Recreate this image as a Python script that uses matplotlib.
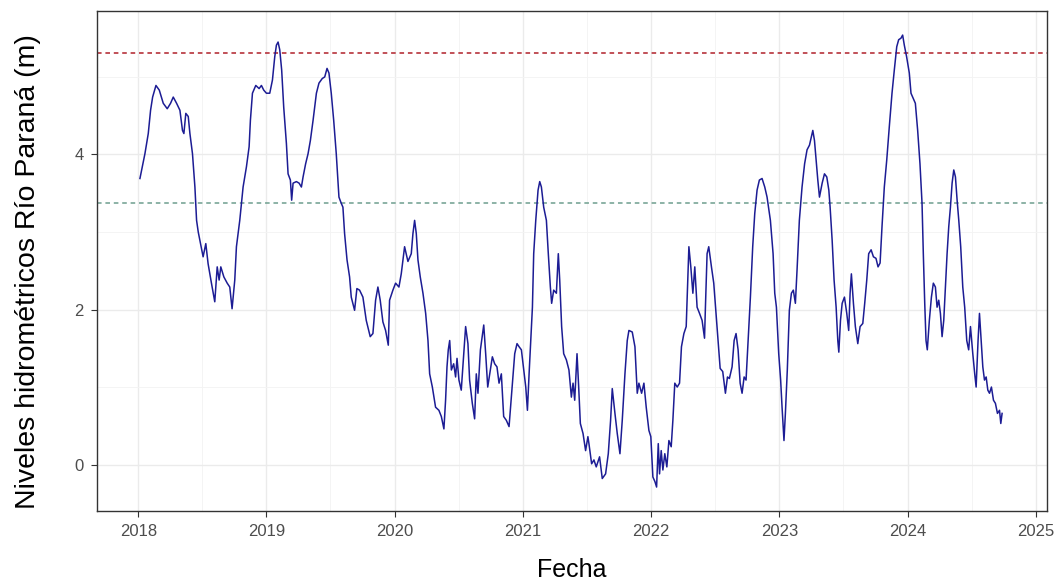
import matplotlib
matplotlib.use("Agg")
import matplotlib.pyplot as plt
import matplotlib.dates as mdates
import numpy as np
import pandas as pd

# ---- data (decimal year, level in m) ----
years_2018_19 = [2018.013, 2018.052, 2018.078, 2018.096, 2018.112, 2018.138, 2018.164, 2018.195, 2018.226, 2018.252,
                 2018.273, 2018.299, 2018.325, 2018.345, 2018.356, 2018.371, 2018.390, 2018.403, 2018.423, 2018.442,
                 2018.455, 2018.468, 2018.486, 2018.506, 2018.527, 2018.545, 2018.571, 2018.597, 2018.616, 2018.631,
                 2018.644, 2018.668, 2018.694, 2018.714, 2018.732, 2018.753, 2018.766, 2018.792, 2018.818, 2018.844,
                 2018.865, 2018.875, 2018.891, 2018.917, 2018.943, 2018.961, 2018.979, 2019.000, 2019.026, 2019.047,
                 2019.065, 2019.078, 2019.091, 2019.104, 2019.119, 2019.135, 2019.156, 2019.169, 2019.187, 2019.197,
                 2019.208, 2019.234, 2019.255, 2019.273, 2019.286, 2019.306, 2019.325, 2019.343, 2019.364, 2019.390,
                 2019.410, 2019.436, 2019.455, 2019.473, 2019.488, 2019.506, 2019.525, 2019.545, 2019.566, 2019.584,
                 2019.597, 2019.610, 2019.629, 2019.649, 2019.662, 2019.688, 2019.706]
levels_2018_19 = [3.69, 4.01, 4.27, 4.57, 4.74, 4.89, 4.83, 4.66, 4.59, 4.66,
                  4.74, 4.66, 4.57, 4.31, 4.27, 4.53, 4.49, 4.27, 4.01, 3.58,
                  3.15, 3.00, 2.85, 2.68, 2.85, 2.59, 2.34, 2.10, 2.55, 2.38,
                  2.55, 2.42, 2.34, 2.29, 2.01, 2.38, 2.81, 3.15, 3.58, 3.84,
                  4.10, 4.44, 4.79, 4.89, 4.85, 4.89, 4.83, 4.79, 4.79, 4.96,
                  5.26, 5.41, 5.45, 5.35, 5.09, 4.61, 4.14, 3.75, 3.67, 3.41,
                  3.63, 3.65, 3.63, 3.58, 3.71, 3.88, 4.01, 4.18, 4.44, 4.79,
                  4.92, 4.98, 5.00, 5.11, 5.05, 4.79, 4.44, 4.01, 3.45, 3.37,
                  3.32, 2.98, 2.64, 2.42, 2.16, 1.99, 2.27]

years_2019_21 = [2019.727, 2019.753, 2019.779, 2019.810, 2019.831, 2019.852, 2019.870, 2019.888, 2019.909, 2019.930,
                 2019.951, 2019.961, 2019.987, 2020.008, 2020.034, 2020.052, 2020.078, 2020.104, 2020.130, 2020.143,
                 2020.156, 2020.169, 2020.182, 2020.200, 2020.221, 2020.242, 2020.260, 2020.273, 2020.294, 2020.319,
                 2020.345, 2020.364, 2020.384, 2020.397, 2020.408, 2020.418, 2020.429, 2020.442, 2020.460, 2020.475,
                 2020.486, 2020.501, 2020.519, 2020.538, 2020.553, 2020.571, 2020.584, 2020.605, 2020.623, 2020.636,
                 2020.649, 2020.668, 2020.694, 2020.709, 2020.725, 2020.745, 2020.761, 2020.779, 2020.797, 2020.813,
                 2020.831, 2020.849, 2020.870, 2020.891, 2020.909, 2020.935, 2020.953, 2020.969, 2020.987, 2021.005,
                 2021.021, 2021.034, 2021.047, 2021.060, 2021.073, 2021.083, 2021.099, 2021.117, 2021.130, 2021.143,
                 2021.161, 2021.182, 2021.197, 2021.213, 2021.223, 2021.239, 2021.260, 2021.275, 2021.286, 2021.301,
                 2021.317, 2021.338, 2021.358, 2021.377, 2021.390, 2021.403, 2021.421, 2021.434, 2021.447, 2021.468,
                 2021.488, 2021.506]
levels_2019_21 = [2.25, 2.16, 1.86, 1.65, 1.69, 2.12, 2.29, 2.12, 1.84, 1.73,
                  1.54, 2.12, 2.25, 2.34, 2.29, 2.46, 2.81, 2.62, 2.72, 2.98,
                  3.15, 2.98, 2.64, 2.42, 2.21, 1.95, 1.60, 1.17, 1.00, 0.74,
                  0.70, 0.62, 0.46, 0.83, 1.26, 1.48, 1.60, 1.22, 1.30, 1.13,
                  1.37, 1.09, 0.96, 1.43, 1.78, 1.56, 1.09, 0.79, 0.59, 1.17,
                  0.92, 1.48, 1.80, 1.43, 1.00, 1.22, 1.39, 1.30, 1.26, 1.05,
                  1.17, 0.62, 0.57, 0.49, 0.87, 1.43, 1.56, 1.52, 1.48, 1.22,
                  1.00, 0.70, 1.17, 1.60, 2.03, 2.72, 3.15, 3.54, 3.65, 3.58,
                  3.32, 3.15, 2.72, 2.29, 2.08, 2.25, 2.21, 2.72, 2.38, 1.78,
                  1.43, 1.35, 1.22, 0.87, 1.05, 0.83, 1.43, 1.00, 0.53, 0.40,
                  0.18, 0.36]

years_2021_23 = [2021.514, 2021.535, 2021.553, 2021.571, 2021.597, 2021.618, 2021.644, 2021.665, 2021.683, 2021.696,
                 2021.717, 2021.735, 2021.756, 2021.774, 2021.795, 2021.813, 2021.826, 2021.852, 2021.873, 2021.891,
                 2021.904, 2021.925, 2021.943, 2021.961, 2021.982, 2021.997, 2022.013, 2022.029, 2022.042, 2022.055,
                 2022.065, 2022.078, 2022.091, 2022.106, 2022.122, 2022.138, 2022.156, 2022.169, 2022.184, 2022.203,
                 2022.221, 2022.236, 2022.255, 2022.273, 2022.283, 2022.294, 2022.309, 2022.325, 2022.340, 2022.358,
                 2022.377, 2022.397, 2022.416, 2022.423, 2022.436, 2022.449, 2022.470, 2022.488, 2022.506, 2022.522,
                 2022.538, 2022.558, 2022.579, 2022.595, 2022.610, 2022.631, 2022.647, 2022.662, 2022.678, 2022.694,
                 2022.709, 2022.725, 2022.740, 2022.756, 2022.774, 2022.792, 2022.808, 2022.826, 2022.844, 2022.865,
                 2022.886, 2022.904, 2022.930, 2022.951, 2022.964, 2022.977, 2022.995, 2023.010, 2023.021, 2023.036,
                 2023.047, 2023.062, 2023.078, 2023.094, 2023.109, 2023.125, 2023.138, 2023.156, 2023.177, 2023.197,
                 2023.216]
levels_2021_23 = [0.27, 0.01, 0.06, -0.03, 0.10, -0.18, -0.12, 0.14, 0.57, 0.98,
                  0.66, 0.40, 0.14, 0.57, 1.17, 1.60, 1.73, 1.71, 1.52, 0.92,
                  1.05, 0.92, 1.05, 0.74, 0.44, 0.36, -0.16, -0.22, -0.29, 0.27,
                  -0.12, 0.18, -0.07, 0.14, -0.03, 0.31, 0.23, 0.57, 1.05, 1.00,
                  1.05, 1.52, 1.69, 1.78, 2.29, 2.81, 2.55, 2.21, 2.55, 2.03,
                  1.95, 1.86, 1.63, 2.03, 2.72, 2.81, 2.55, 2.34, 1.95, 1.60,
                  1.24, 1.20, 0.92, 1.13, 1.11, 1.26, 1.60, 1.69, 1.48, 1.05,
                  0.92, 1.13, 1.09, 1.60, 2.16, 2.81, 3.24, 3.54, 3.67, 3.69,
                  3.58, 3.45, 3.15, 2.72, 2.21, 2.03, 1.43, 1.09, 0.74, 0.31,
                  0.66, 1.22, 1.99, 2.21, 2.25, 2.08, 2.51, 3.15, 3.58, 3.88,
                  4.06]

years_2023_24 = [2023.235, 2023.261, 2023.274, 2023.287, 2023.300, 2023.313, 2023.334, 2023.352, 2023.370, 2023.386,
                 2023.396, 2023.412, 2023.427, 2023.443, 2023.456, 2023.464, 2023.477, 2023.490, 2023.508, 2023.526,
                 2023.541, 2023.552, 2023.562, 2023.578, 2023.593, 2023.612, 2023.630, 2023.651, 2023.666, 2023.682,
                 2023.697, 2023.716, 2023.734, 2023.754, 2023.770, 2023.786, 2023.801, 2023.819, 2023.838, 2023.858,
                 2023.879, 2023.897, 2023.916, 2023.931, 2023.949, 2023.962, 2023.975, 2023.993, 2024.014, 2024.027,
                 2024.045, 2024.061, 2024.079, 2024.097, 2024.113, 2024.123, 2024.134, 2024.144, 2024.154, 2024.170,
                 2024.186, 2024.201, 2024.217, 2024.230, 2024.243, 2024.256, 2024.269, 2024.282, 2024.295, 2024.308,
                 2024.321, 2024.334, 2024.347, 2024.360, 2024.373, 2024.386, 2024.399, 2024.414, 2024.430, 2024.445,
                 2024.461, 2024.476, 2024.490, 2024.508, 2024.523, 2024.534, 2024.549, 2024.560, 2024.573, 2024.586,
                 2024.599, 2024.612, 2024.625, 2024.638, 2024.653, 2024.669, 2024.684, 2024.700, 2024.716, 2024.726,
                 2024.736]
levels_2023_24 = [4.12, 4.31, 4.18, 3.93, 3.67, 3.45, 3.63, 3.75, 3.71, 3.54,
                  3.32, 2.89, 2.38, 2.03, 1.60, 1.45, 1.86, 2.08, 2.16, 1.95,
                  1.73, 2.21, 2.46, 2.08, 1.78, 1.56, 1.78, 1.82, 2.08, 2.38,
                  2.72, 2.77, 2.68, 2.66, 2.55, 2.60, 3.07, 3.58, 3.93, 4.36,
                  4.79, 5.09, 5.39, 5.48, 5.50, 5.54, 5.41, 5.26, 5.05, 4.79,
                  4.72, 4.66, 4.31, 3.88, 3.37, 2.72, 2.08, 1.60, 1.48, 1.86,
                  2.16, 2.34, 2.29, 2.03, 2.12, 1.95, 1.65, 1.86, 2.29, 2.72,
                  3.07, 3.32, 3.63, 3.80, 3.71, 3.41, 3.15, 2.81, 2.29, 2.03,
                  1.60, 1.48, 1.78, 1.43, 1.17, 1.00, 1.60, 1.95, 1.60, 1.26,
                  1.09, 1.13, 0.96, 0.92, 1.00, 0.83, 0.79, 0.66, 0.70, 0.53,
                  0.66]

umbral_alto = 5.31
umbral_medio = 3.37
tick_years = [2018, 2019, 2020, 2021, 2022, 2023, 2024, 2025]
y_ticks = [0, 2, 4]


def to_datetime(decimal_years):
    out = []
    for d in decimal_years:
        y = int(np.floor(d))
        start = pd.Timestamp(year=y, month=1, day=1)
        end = pd.Timestamp(year=y + 1, month=1, day=1)
        out.append(start + (end - start) * (d - y))
    return pd.to_datetime(out)


years = years_2018_19 + years_2019_21 + years_2021_23 + years_2023_24
levels = levels_2018_19 + levels_2019_21 + levels_2021_23 + levels_2023_24
dates = to_datetime(years)

plt.rcParams['font.family'] = ['Liberation Sans', 'DejaVu Sans']

fig = plt.figure(figsize=(10.59, 5.81), dpi=100)
ax = fig.add_axes([0.0916, 0.121, 0.8971, 0.860])

ax.plot(dates, levels, color='#1c1c94', linewidth=1.1, zorder=3)
ax.axhline(umbral_alto, color='#b0202a', linestyle=(0, (3, 2.5)), linewidth=1.1, zorder=2)
ax.axhline(umbral_medio, color='#6d9e8e', linestyle=(0, (3, 2.5)), linewidth=1.1, zorder=2)

ax.set_xticks(to_datetime(tick_years))
ax.xaxis.set_major_formatter(mdates.DateFormatter('%Y'))
ax.set_xticks(to_datetime([y + 0.5 for y in tick_years[:-1]]), minor=True)
ax.set_yticks(y_ticks)
ax.set_yticklabels([str(v) for v in y_ticks])
ax.set_yticks([1, 3, 5], minor=True)

xmin = to_datetime([2017.678])[0]
xmax = to_datetime([2025.086])[0]
ax.set_xlim(xmin, xmax)
ax.set_ylim(-0.595, 5.85)

ax.grid(True, which='major', color='#ebebeb', linewidth=1.0, zorder=0)
ax.grid(True, which='minor', color='#f3f3f3', linewidth=0.6, zorder=0)
ax.set_axisbelow(True)

for s in ax.spines.values():
    s.set_color('#333333')
    s.set_linewidth(1.0)

ax.tick_params(axis='both', which='major', length=4.5, width=0.8, color='#333333',
               labelcolor='#4d4d4d', labelsize=12, pad=5)
ax.tick_params(axis='both', which='minor', length=0)

ax.set_xlabel('Fecha', fontsize=18, color='black', labelpad=14)
ax.set_ylabel('Niveles hidrométricos Río Paraná (m)', fontsize=20.5, color='black')
ax.yaxis.set_label_coords(-0.059, 0.478)

fig.savefig('out.png', dpi=100, facecolor='white')
